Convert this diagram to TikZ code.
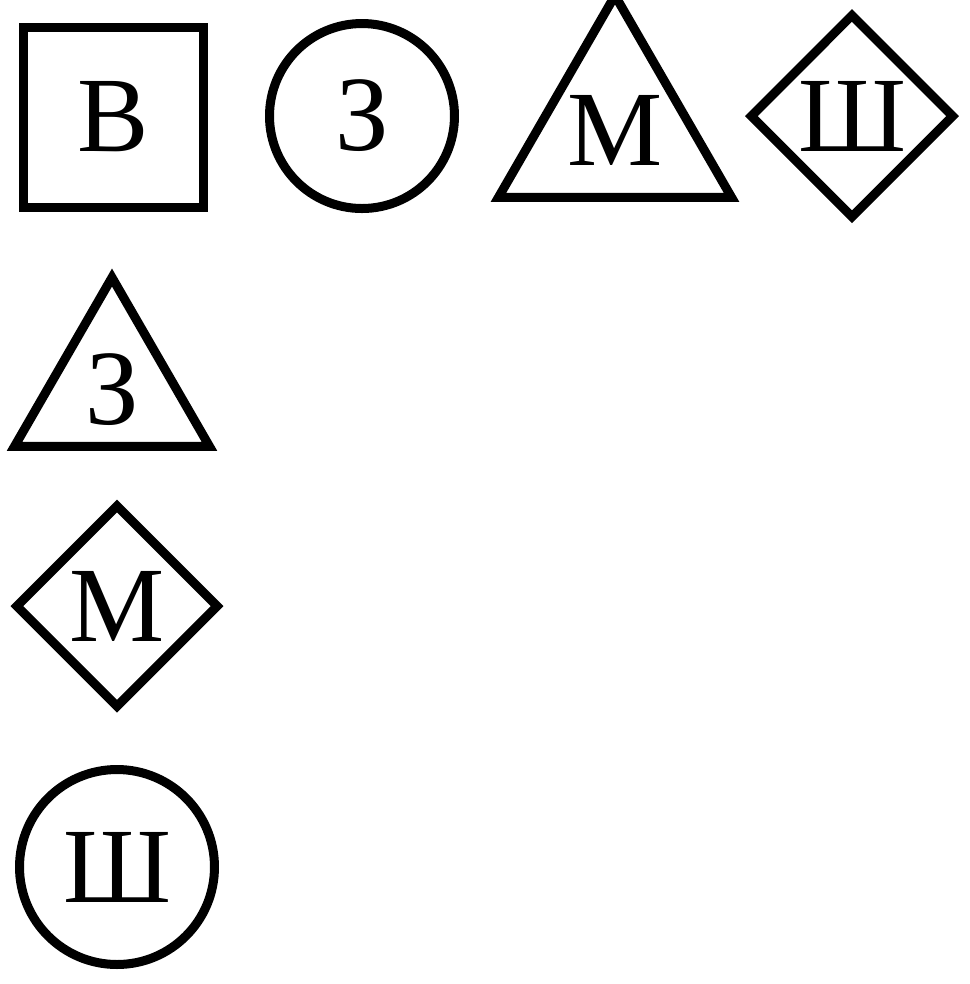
\documentclass[tikz,border=0pt]{standalone}
\usepackage{fontspec}
\setmainfont{Liberation Serif}
\usepackage{tikz}
\usetikzlibrary{shapes.geometric, positioning}
\tikzset{
  letterbase/.style={
    draw, line width=0.9pt, inner sep=0pt, align=center,
    font=\fontsize{10.7}{12}\selectfont
  },
  lettersquare/.style={letterbase, rectangle, minimum size=18pt},
  lettercircle/.style={letterbase, circle, minimum size=#1},
  lettertriangle/.style={letterbase, regular polygon, regular polygon sides=3,
    minimum size=#1},
  letterdiamond/.style={letterbase, diamond, aspect=1, minimum size=#1},
}

\begin{document}
\begin{tikzpicture}[x=0.1pt, y=-0.1pt]
  \useasboundingbox (0,0) rectangle (970,984);

  % top row
  \node[lettersquare] (sqV) at (113.5,117) {В};
  \node[lettercircle=18.5pt] (ciZ) at (362,116) {З};
  \node[lettertriangle=24pt] (trM) at (615,130) {М};
  \node[letterdiamond=20.5pt] (diSh) at (852,116) {Ш};

  % left column
  \node[lettertriangle=22.5pt] (trZ) at (112,390) {З};
  \node[letterdiamond=20.4pt] (diM) at (117,606) {М};
  \node[lettercircle=19.5pt] (ciSh) at (117,867) {Ш};
\end{tikzpicture}
\end{document}
